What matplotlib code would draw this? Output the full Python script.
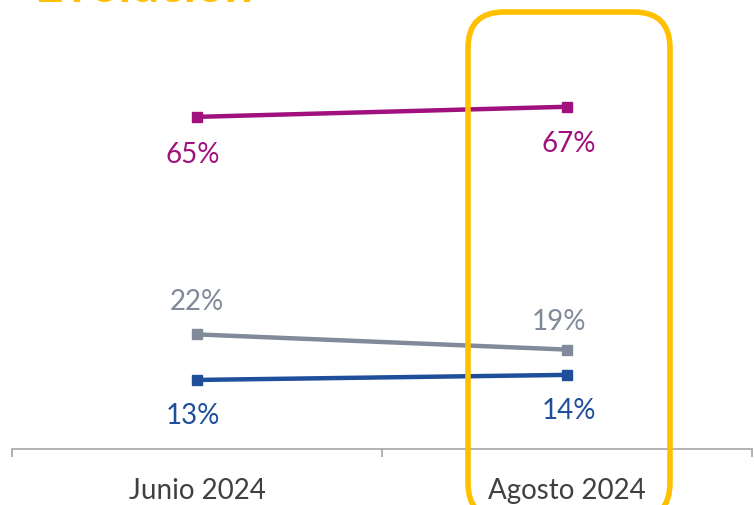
import matplotlib
matplotlib.use("Agg")
import matplotlib.pyplot as plt
from matplotlib.patches import FancyBboxPatch
from matplotlib.transforms import IdentityTransform

categories = ["Junio 2024", "Agosto 2024"]
series_magenta = [65, 67]
series_gray = [22, 19]
series_blue = [13, 14]
title_text = "Evolución"

plt.rcParams['font.family'] = ['Lato', 'DejaVu Sans']

W, H = 754, 506
fig = plt.figure(figsize=(W / 100, H / 100), dpi=100)
ax = fig.add_axes([12 / W, (H - 450) / H, 740 / W, 450 / H])

x = list(range(len(categories)))
col_m = "#A0117E"
col_g = "#808A9A"
col_b = "#1F4E9A"
for vals, col, off, dx in [(series_magenta, col_m, [-37, -36], [-4, 2]),
                           (series_gray, col_g, [33, 29], [0, -8]),
                           (series_blue, col_b, [-35, -35], [-4, 2])]:
    ax.plot(x, vals, color=col, lw=3.2, marker="s", ms=7, solid_capstyle="round")
    for xi, v, o, d in zip(x, vals, off, dx):
        ax.annotate(f"{v}%", (xi, v), xytext=(d * 0.72, o * 0.72), textcoords="offset points",
                    ha="center", va="center", color=col, fontsize=20)

ax.set_xlim(-0.5, 1.5)
ax.set_ylim(-0.65, 88.3)
for s in ["top", "right", "left"]:
    ax.spines[s].set_visible(False)
ax.spines["bottom"].set_color("#A6A6A6")
ax.spines["bottom"].set_linewidth(1.2)
ax.set_yticks([])
ax.set_xticks(x)
ax.set_xticklabels(categories, fontsize=20, color="#404040")
ax.tick_params(axis="x", which="major", length=0, pad=20)
ax.set_xticks([-0.5, 0.5, 1.5], minor=True)
ax.tick_params(axis="x", which="minor", length=6, color="#A6A6A6", width=1.2)

# highlight box
box = FancyBboxPatch((468, -14), 202, H - 13 + 14,
                     boxstyle="round,pad=0,rounding_size=36",
                     transform=IdentityTransform(), fill=False,
                     edgecolor="#FFC000", lw=4, zorder=5)
fig.patches.append(box)

fig.text(35 / W, (H - 2) / H, title_text, color="#FFC000", fontsize=36,
         fontweight="bold", ha="left", va="baseline")

fig.savefig("out.png", dpi=100)
